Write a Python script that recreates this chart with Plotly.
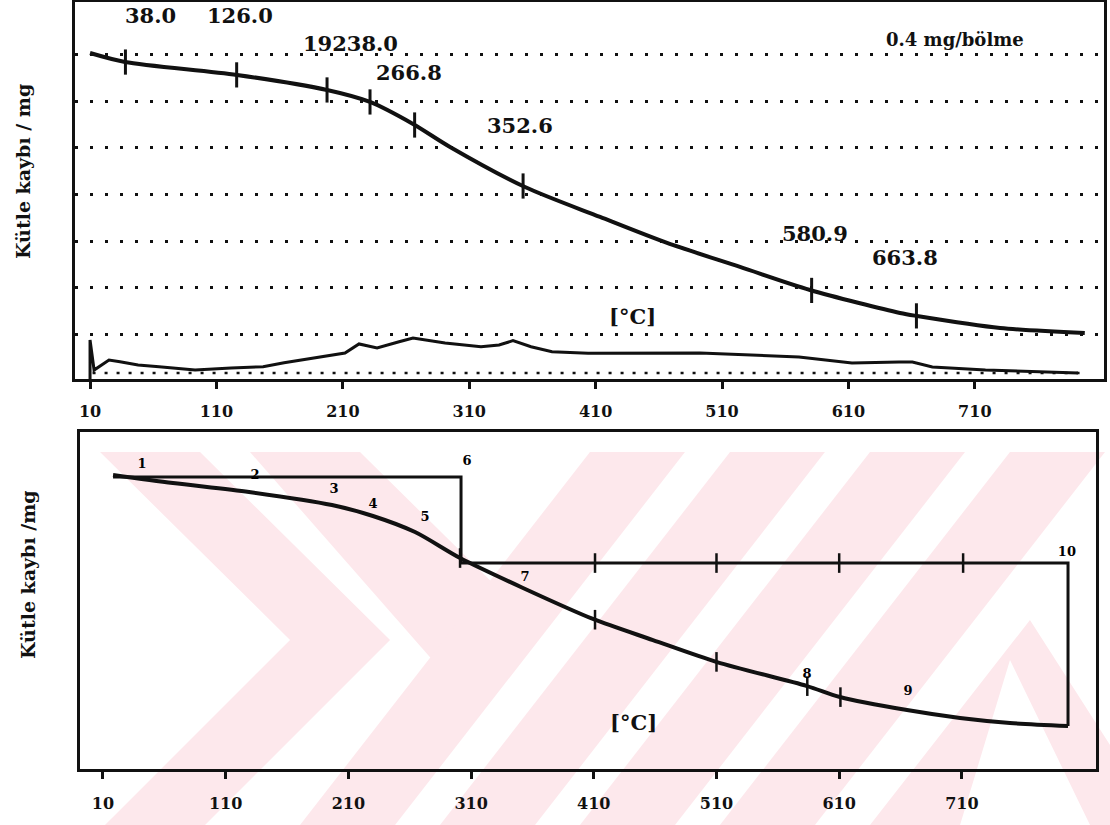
import numpy as np
import plotly.graph_objects as go

W, H = 1110, 825
INK = "#111111"
FONT = "DejaVu Serif"
PINK = "#fde8ec"

# ---------------- upper panel: TG + DTA ----------------
tg_top_T = [10, 37.7, 126.3, 197.5, 231.5, 265.5, 294.8, 354.1, 413.5, 466.5,
            524.2, 579.6, 650.8, 664.3, 730, 797]
tg_top_m = [2.815, 2.738, 2.627, 2.498, 2.395, 2.206, 2.009, 1.665, 1.408, 1.185,
            0.979, 0.781, 0.584, 0.558, 0.455, 0.412]

dta_T = [10, 10, 13.2, 25.0, 33.7, 48.0, 64.6, 93.1, 121.6, 146.9, 163.5, 192.0,
         211.7, 222.8, 237.1, 254.5, 265.5, 290.9, 319.3, 333.6, 344.6, 358.9,
         375.5, 404.0, 434.8, 492.6, 570.9, 612.8, 650.0, 660.6, 676.4, 718.4, 791.6]
dta_v = [0.017, 0.352, 0.094, 0.180, 0.166, 0.137, 0.123, 0.094, 0.112, 0.123, 0.157,
         0.209, 0.240, 0.318, 0.283, 0.337, 0.369, 0.326, 0.294, 0.309, 0.346, 0.294,
         0.252, 0.238, 0.238, 0.240, 0.206, 0.155, 0.163, 0.163, 0.120, 0.094, 0.069]

top_mark_T = [38.0, 126.0, 197.5, 231.5, 266.8, 352.6, 580.9, 663.8]

top_label_text = ["38.0", "126.0", "19238.0", "266.8", "352.6", "580.9", "663.8"]
top_label_T = [57.5, 128.7, 215.7, 262.4, 350.2, 583.6, 654.8]
top_label_m = [3.14, 3.14, 2.90, 2.652, 2.197, 1.27, 1.056]

mass_grid = [0.4, 0.8, 1.2, 1.6, 2.0, 2.4, 2.8]

# ---------------- lower panel: TG with step construction ----------------
tg_bot_T = [18.2, 67.0, 129.0, 196.6, 230.0, 264.3, 301.0, 352.3, 409.3, 458.2,
            510.4, 583.8, 610.6, 665.3, 708.5, 749.2, 796.5]
tg_bot_m = [2.524, 2.455, 2.378, 2.266, 2.172, 2.034, 1.811, 1.554, 1.288, 1.107,
            0.918, 0.712, 0.618, 0.506, 0.438, 0.395, 0.369]

step_T = [18.2, 301.8, 301.8, 796.5, 796.5]
step_m = [2.506, 2.506, 1.768, 1.768, 0.369]

step_mark_T = [411, 510, 610, 711]
curve_mark_T = [301, 411, 510, 584, 611]

pt_text = ["1", "2", "3", "4", "5", "6", "7", "8", "9", "10"]
pt_T = [41.8, 133.9, 198.3, 230.0, 272.4, 306.7, 353.9, 583.8, 666.1, 795.6]
pt_m = [2.609, 2.515, 2.395, 2.266, 2.155, 2.635, 1.639, 0.807, 0.661, 1.854]

temp_ticks = [10, 110, 210, 310, 410, 510, 610, 710]

fig = go.Figure()

# upper panel traces
fig.add_trace(go.Scatter(x=tg_top_T, y=tg_top_m, mode="lines",
                         line=dict(color=INK, width=4, shape="spline", smoothing=0.8),
                         xaxis="x", yaxis="y", hoverinfo="skip"))
fig.add_trace(go.Scatter(x=dta_T, y=dta_v, mode="lines",
                         line=dict(color=INK, width=3),
                         xaxis="x", yaxis="y", hoverinfo="skip"))
fig.add_trace(go.Scatter(x=top_mark_T, y=list(np.interp(top_mark_T, tg_top_T, tg_top_m)),
                         mode="markers",
                         marker=dict(symbol="line-ns", size=18,
                                     line=dict(color=INK, width=3)),
                         xaxis="x", yaxis="y", hoverinfo="skip"))
# cross-hatched row just above the axis
fig.add_trace(go.Scatter(x=[12, 795], y=[0.069, 0.069], mode="lines",
                         line=dict(color=INK, width=2.5, dash="3px,9px"),
                         xaxis="x", yaxis="y", hoverinfo="skip"))

# lower panel traces
fig.add_trace(go.Scatter(x=step_T, y=step_m, mode="lines",
                         line=dict(color=INK, width=3),
                         xaxis="x2", yaxis="y2", hoverinfo="skip"))
fig.add_trace(go.Scatter(x=tg_bot_T, y=tg_bot_m, mode="lines",
                         line=dict(color=INK, width=4, shape="spline", smoothing=0.8),
                         xaxis="x2", yaxis="y2", hoverinfo="skip"))
fig.add_trace(go.Scatter(x=step_mark_T, y=[step_m[2]] * len(step_mark_T), mode="markers",
                         marker=dict(symbol="line-ns", size=14,
                                     line=dict(color=INK, width=2.5)),
                         xaxis="x2", yaxis="y2", hoverinfo="skip"))
fig.add_trace(go.Scatter(x=curve_mark_T, y=list(np.interp(curve_mark_T, tg_bot_T, tg_bot_m)),
                         mode="markers",
                         marker=dict(symbol="line-ns", size=14,
                                     line=dict(color=INK, width=2.5)),
                         xaxis="x2", yaxis="y2", hoverinfo="skip"))
fig.add_trace(go.Scatter(x=pt_T, y=pt_m, mode="text",
                         text=[f"<b>{t}</b>" for t in pt_text],
                         textfont=dict(family=FONT, size=13, color="black"),
                         xaxis="x2", yaxis="y2", hoverinfo="skip"))

annotations = []
for t, x, y in zip(top_label_text, top_label_T, top_label_m):
    annotations.append(dict(x=x, y=y, xref="x", yref="y", text=f"<b>{t}</b>",
                            showarrow=False, xanchor="center", yanchor="middle",
                            font=dict(family=FONT, size=21, color=INK)))
annotations += [
    dict(x=694, y=2.93, xref="x", yref="y", text="<b>0.4 mg/bölme</b>",
         showarrow=False, bgcolor="white", xanchor="center", yanchor="middle",
         font=dict(family=FONT, size=18, color=INK)),
    dict(x=438.8, y=0.55, xref="x", yref="y", text="<b>[°C]</b>",
         showarrow=False, bgcolor="white", xanchor="center", yanchor="middle",
         font=dict(family=FONT, size=21, color=INK)),
    dict(x=442, y=0.40, xref="x2", yref="y2", text="<b>[°C]</b>",
         showarrow=False, xanchor="center", yanchor="middle",
         font=dict(family=FONT, size=21, color=INK)),
    dict(x=23 / W, y=1 - 172 / H, xref="paper", yref="paper",
         text="<b>Kütle kaybı / mg</b>", textangle=-90, showarrow=False,
         xanchor="center", yanchor="middle",
         font=dict(family=FONT, size=19, color=INK)),
    dict(x=28 / W, y=1 - 575 / H, xref="paper", yref="paper",
         text="<b>Kütle kaybı /mg</b>", textangle=-90, showarrow=False,
         xanchor="center", yanchor="middle",
         font=dict(family=FONT, size=19, color=INK)),
]


# faint diagonal watermark bands behind the lower panel
def band(pts):
    p = " L ".join(f"{x / W:.4f},{1 - y / H:.4f}" for x, y in pts)
    return dict(type="path", path=f"M {p} Z", xref="paper", yref="paper",
                fillcolor=PINK, line=dict(width=0), layer="below")


shapes = [
    band([(100, 452), (200, 452), (390, 640), (205, 825), (105, 825), (290, 640)]),
    band([(250, 452), (360, 452), (520, 610), (450, 680)]),
]
for x0 in [300, 440, 580, 720]:
    shapes.append(band([(x0, 825), (x0 + 95, 825), (x0 + 385, 452), (x0 + 290, 452)]))
shapes.append(band([(870, 825), (960, 825), (1010, 660), (1090, 825), (1110, 825),
                    (1110, 745), (1030, 620)]))

xcommon = dict(tickvals=temp_ticks, ticktext=[f"<b>{v}</b>" for v in temp_ticks],
               ticks="outside", ticklen=7, tickwidth=2.5, tickcolor=INK,
               tickfont=dict(family=FONT, size=16, color=INK),
               showline=True, linecolor=INK, linewidth=3, mirror=True,
               showgrid=False, zeroline=False)

fig.update_layout(
    width=W, height=H,
    margin=dict(l=0, r=0, t=0, b=0),
    paper_bgcolor="white", plot_bgcolor="rgba(0,0,0,0)",
    showlegend=False,
    xaxis=dict(domain=[75 / W, 1104 / W], range=[-1.9, 812.2], anchor="y",
               ticklabelstandoff=9, **xcommon),
    yaxis=dict(domain=[1 - 379 / H, 1 - 2 / H], range=[0.0172, 3.253], anchor="x",
               showticklabels=False, ticks="", tickvals=mass_grid,
               showgrid=True, gridcolor=INK, gridwidth=3, griddash="3px,12px",
               showline=True, linecolor=INK, linewidth=3, mirror=True,
               zeroline=False),
    xaxis2=dict(domain=[80 / W, 1096 / W], range=[-8.74, 819.3], anchor="y2",
                ticklabelstandoff=11, **xcommon),
    yaxis2=dict(domain=[1 - 769 / H, 1 - 432 / H], range=[0, 2.893], anchor="x2",
                showticklabels=False, ticks="", showgrid=False,
                showline=True, linecolor=INK, linewidth=3, mirror=True,
                zeroline=False),
    annotations=annotations,
    shapes=shapes,
)

fig.write_html("out.html")
